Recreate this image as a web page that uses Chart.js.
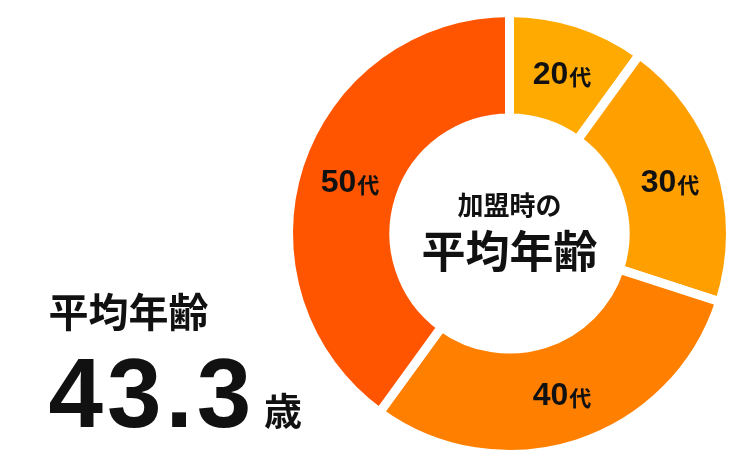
<!DOCTYPE html>
<html><head><meta charset="utf-8">
<script src="https://cdn.jsdelivr.net/npm/chart.js@4"></script>
<style>html,body{margin:0;padding:0;background:#fff;} #wrap{position:relative;width:750px;height:470px;}</style>
</head><body><div id="wrap"><canvas id="c"></canvas></div>
<script>
const categories = ['20代', '30代', '40代', '50代'];
const shares = [10, 20, 30, 40];
const colors = ['#FFAA00', '#FFA000', '#FF8000', '#FF5500'];
const centerTitle = ['加盟時の', '平均年齢'];
const avgLabel = '平均年齢';
const avgValue = '43.3';
const avgUnit = '歳';

const LATIN = '"Liberation Sans", Arial, sans-serif';
const CJK = '"Noto Sans CJK JP", sans-serif';
const INK = '#111';

const textPlugin = {
  id: 'texts',
  afterDraw(chart) {
    const ctx = chart.ctx;
    const meta = chart.getDatasetMeta(0);
    ctx.save();
    ctx.fillStyle = INK;
    ctx.textBaseline = 'alphabetic';
    // segment labels
    meta.data.forEach((arc, i) => {
      const p = arc.getCenterPoint();
      const m = categories[i].match(/^(\d+)(.*)$/);
      const num = m[1], unit = m[2];
      ctx.font = 'bold 32px ' + LATIN;
      const wn = ctx.measureText(num).width;
      ctx.font = 'bold 22px ' + CJK;
      const wu = ctx.measureText(unit).width;
      const x0 = p.x - (wn + wu) / 2;
      const base = p.y + 11;
      ctx.textAlign = 'left';
      ctx.font = 'bold 32px ' + LATIN;
      ctx.fillText(num, x0, base);
      ctx.font = 'bold 22px ' + CJK;
      ctx.fillText(unit, x0 + wn + 1, base + 1);
    });
    // centre texts
    const cx = meta.data[0].x;
    ctx.textAlign = 'center';
    ctx.font = 'bold 26px ' + CJK;
    ctx.fillText(centerTitle[0], cx, 215);
    ctx.font = 'bold 44px ' + CJK;
    ctx.fillText(centerTitle[1], cx, 268);
    // left texts
    ctx.textAlign = 'left';
    ctx.font = 'bold 40px ' + CJK;
    ctx.fillText(avgLabel, 48.5, 327);
    ctx.font = 'bold 98px ' + LATIN;
    ctx.letterSpacing = '4px';
    ctx.fillText(avgValue, 48.5, 427);
    ctx.letterSpacing = '0px';
    ctx.font = 'bold 38px ' + CJK;
    ctx.fillText(avgUnit, 264, 425);
    ctx.restore();
  }
};

new Chart(document.getElementById('c'), {
  type: 'doughnut',
  data: {
    labels: categories,
    datasets: [{
      data: shares,
      backgroundColor: colors,
      borderColor: '#ffffff',
      borderWidth: 9,
      borderJoinStyle: 'miter',
      hoverOffset: 0
    }]
  },
  options: {
    responsive: true,
    maintainAspectRatio: false,
    animation: false,
    events: [],
    radius: 221,
    cutout: '52.3%',
    layout: { padding: { left: 280, right: 11, top: 0, bottom: 3 } },
    plugins: { legend: { display: false }, tooltip: { enabled: false } }
  },
  plugins: [textPlugin]
});
</script>
</body></html>
